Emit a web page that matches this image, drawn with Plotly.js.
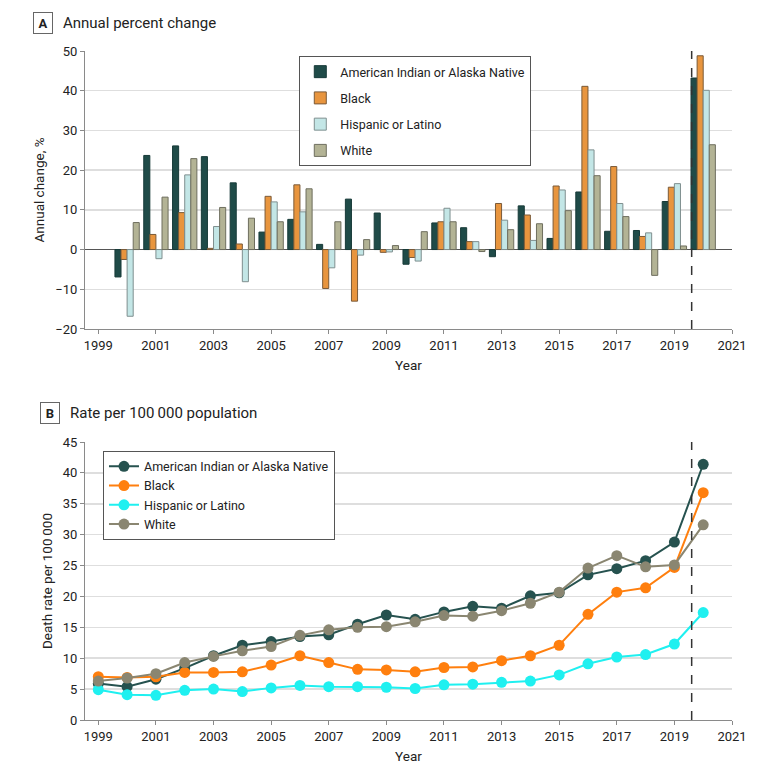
<!DOCTYPE html>
<html>
<head>
<meta charset="utf-8">
<script src="https://cdn.plot.ly/plotly-3.0.1.min.js"></script>
<style>
  html, body { margin: 0; padding: 0; background: #fff; }
  #chart { width: 780px; height: 775px; }
</style>
</head>
<body>
<div id="chart"></div>
<script>
// ---- Data ----
const groups = ["American Indian or Alaska Native", "Black", "Hispanic or Latino", "White"];

// Panel A: annual percent change
const changeYears = [2000, 2001, 2002, 2003, 2004, 2005, 2006, 2007, 2008, 2009, 2010,
                     2011, 2012, 2013, 2014, 2015, 2016, 2017, 2018, 2019, 2020];
const changeAIAN = [-6.9, 23.7, 26.1, 23.4, 16.8, 4.4, 7.6, 1.3, 12.7, 9.2, -3.7,
                    6.7, 5.5, -1.8, 11.0, 2.8, 14.5, 4.6, 4.8, 12.1, 43.2];
const changeBlack = [-2.5, 3.8, 9.3, 0.3, 1.4, 13.4, 16.3, -9.8, -13.0, -0.7, -2.0,
                     7.0, 2.0, 11.6, 8.7, 16.0, 41.1, 20.9, 3.3, 15.7, 48.8];
const changeHispanic = [-16.8, -2.3, 18.8, 5.8, -8.1, 12.0, 9.5, -4.6, -1.4, -0.6, -2.9,
                        10.4, 2.0, 7.4, 2.3, 15.0, 25.1, 11.6, 4.2, 16.6, 40.1];
const changeWhite = [6.8, 13.2, 22.9, 10.6, 7.9, 7.0, 15.3, 7.0, 2.5, 1.0, 4.5,
                     7.0, -0.5, 5.0, 6.5, 9.8, 18.6, 8.3, -6.5, 0.9, 26.4];

// Panel B: rate per 100 000 population
const rateYears = [1999, 2000, 2001, 2002, 2003, 2004, 2005, 2006, 2007, 2008, 2009, 2010,
                   2011, 2012, 2013, 2014, 2015, 2016, 2017, 2018, 2019, 2020];
const rateAIAN = [5.9, 5.4, 6.6, 8.4, 10.4, 12.1, 12.7, 13.5, 13.8, 15.5, 17.0, 16.3,
                  17.5, 18.4, 18.1, 20.1, 20.6, 23.5, 24.5, 25.8, 28.8, 41.4];
const rateBlack = [7.0, 6.9, 7.0, 7.7, 7.7, 7.8, 8.9, 10.4, 9.3, 8.2, 8.1, 7.8,
                   8.5, 8.6, 9.6, 10.4, 12.1, 17.1, 20.7, 21.4, 24.7, 36.8];
const rateHispanic = [4.9, 4.1, 4.0, 4.8, 5.0, 4.6, 5.2, 5.6, 5.4, 5.4, 5.3, 5.1,
                      5.7, 5.8, 6.1, 6.3, 7.3, 9.1, 10.2, 10.6, 12.3, 17.4];
const rateWhite = [6.3, 6.8, 7.5, 9.3, 10.3, 11.2, 11.9, 13.7, 14.6, 15.0, 15.1, 15.9,
                   16.9, 16.8, 17.7, 18.9, 20.7, 24.6, 26.6, 24.8, 25.1, 31.6];

const xTicks = [1999, 2001, 2003, 2005, 2007, 2009, 2011, 2013, 2015, 2017, 2019, 2021];
const topYTicks = [-20, -10, 0, 10, 20, 30, 40, 50];
const bottomYTicks = [0, 5, 10, 15, 20, 25, 30, 35, 40, 45];
const pandemicLine = 2019.6;

// ---- Styles ----
const FONT = '"Roboto", "Noto Sans", sans-serif';
const barFill = ["#1f4b48", "#e8953e", "#c3e6e6", "#b3b395"];
const barEdge = ["#173a38", "#7a5a38", "#7f8f8f", "#6e6e5e"];
const lineCol = ["#26524f", "#ff7f0e", "#1ff0f0", "#8a8671"];

const changeSeries = [changeAIAN, changeBlack, changeHispanic, changeWhite];
const rateSeries = [rateAIAN, rateBlack, rateHispanic, rateWhite];

const traces = [];
groups.forEach((g, i) => {
  traces.push({
    type: "bar", name: g, x: changeYears, y: changeSeries[i],
    xaxis: "x", yaxis: "y", legend: "legend", legendgroup: "a" + i,
    marker: { color: barFill[i], line: { color: barEdge[i], width: 1 } },
    hoverinfo: "x+y+name"
  });
});
groups.forEach((g, i) => {
  traces.push({
    type: "scatter", mode: "lines+markers", name: g, x: rateYears, y: rateSeries[i],
    xaxis: "x2", yaxis: "y2", legend: "legend2", legendgroup: "b" + i,
    line: { color: lineCol[i], width: 2 },
    marker: { color: lineCol[i], size: 11 }
  });
});

const axisCommon = {
  showline: true, linecolor: "#8a8a8a", linewidth: 1,
  ticks: "outside", ticklen: 4, tickcolor: "#8a8a8a", tickwidth: 1,
  tickfont: { family: FONT, size: 13, color: "#222" },
  showgrid: false, zeroline: false, automargin: false
};
const titleFont = { family: FONT, size: 13.5, color: "#222" };

const layout = {
  width: 780, height: 775,
  margin: { l: 85, r: 48, t: 51, b: 55 },
  paper_bgcolor: "#fff", plot_bgcolor: "#fff",
  font: { family: FONT, size: 13, color: "#222" },
  barmode: "group", bargap: 0.155, bargroupgap: 0,
  xaxis: Object.assign({}, axisCommon, {
    domain: [0, 1], anchor: "y", range: [1998.538, 2021],
    tickvals: xTicks, ticktext: xTicks.map(String),
    title: { text: "Year", font: titleFont, standoff: 8 }
  }),
  yaxis: Object.assign({}, axisCommon, {
    domain: [0.5845, 1], anchor: "x", range: [-20, 50],
    tickvals: topYTicks, showgrid: true, gridcolor: "#dedede", gridwidth: 1.5,
    zeroline: true, zerolinecolor: "#555", zerolinewidth: 1,
    title: { text: "Annual change, %", font: titleFont, standoff: 7 }
  }),
  xaxis2: Object.assign({}, axisCommon, {
    domain: [0, 1], anchor: "y2", range: [1998.538, 2021],
    tickvals: xTicks, ticktext: xTicks.map(String),
    title: { text: "Year", font: titleFont, standoff: 8 }
  }),
  yaxis2: Object.assign({}, axisCommon, {
    domain: [0, 0.4155], anchor: "x2", range: [0, 45],
    tickvals: bottomYTicks, showgrid: true, gridcolor: "#dedede", gridwidth: 1.5,
    title: { text: "Death rate per 100\u2009000", font: titleFont, standoff: 7 }
  }),
  legend: {
    x: 0.3312, y: 0.9925, xanchor: "left", yanchor: "top",
    bordercolor: "#555", borderwidth: 1, bgcolor: "#fff",
    font: { family: FONT, size: 12.5, color: "#222" },
    traceorder: "grouped", tracegroupgap: 7, itemwidth: 30
  },
  legend2: {
    x: 0.0278, y: 0.4025, xanchor: "left", yanchor: "top",
    bordercolor: "#555", borderwidth: 1, bgcolor: "#fff",
    font: { family: FONT, size: 12.5, color: "#222" },
    traceorder: "normal", itemwidth: 30
  },
  shapes: [
    { type: "line", xref: "x", yref: "y domain", x0: pandemicLine, x1: pandemicLine, y0: 0, y1: 1,
      line: { color: "#333", width: 1.5, dash: "dash" } },
    { type: "line", xref: "x2", yref: "y2 domain", x0: pandemicLine, x1: pandemicLine, y0: 0, y1: 1,
      line: { color: "#333", width: 1.5, dash: "dash" } }
  ],
  annotations: [
    { xref: "paper", yref: "paper", x: -0.0646, y: 1.0419, xanchor: "center", yanchor: "middle",
      text: "<b>A</b>", showarrow: false, font: { family: FONT, size: 13, color: "#222" },
      bordercolor: "#666", borderwidth: 1, borderpad: 2, bgcolor: "#fff", width: 14, height: 16 },
    { xref: "paper", yref: "paper", x: -0.0371, y: 1.0419, xanchor: "left", yanchor: "middle",
      text: "Annual percent change", showarrow: false, font: { family: FONT, size: 15, color: "#222" } },
    { xref: "paper", yref: "paper", x: -0.0546, y: 0.4589, xanchor: "center", yanchor: "middle",
      text: "<b>B</b>", showarrow: false, font: { family: FONT, size: 13, color: "#222" },
      bordercolor: "#666", borderwidth: 1, borderpad: 2, bgcolor: "#fff", width: 14, height: 16 },
    { xref: "paper", yref: "paper", x: -0.0263, y: 0.4589, xanchor: "left", yanchor: "middle",
      text: "Rate per 100\u2009000 population", showarrow: false, font: { family: FONT, size: 15, color: "#222" } }
  ]
};

Plotly.newPlot("chart", traces, layout, { displayModeBar: false, staticPlot: true });
</script>
</body>
</html>
